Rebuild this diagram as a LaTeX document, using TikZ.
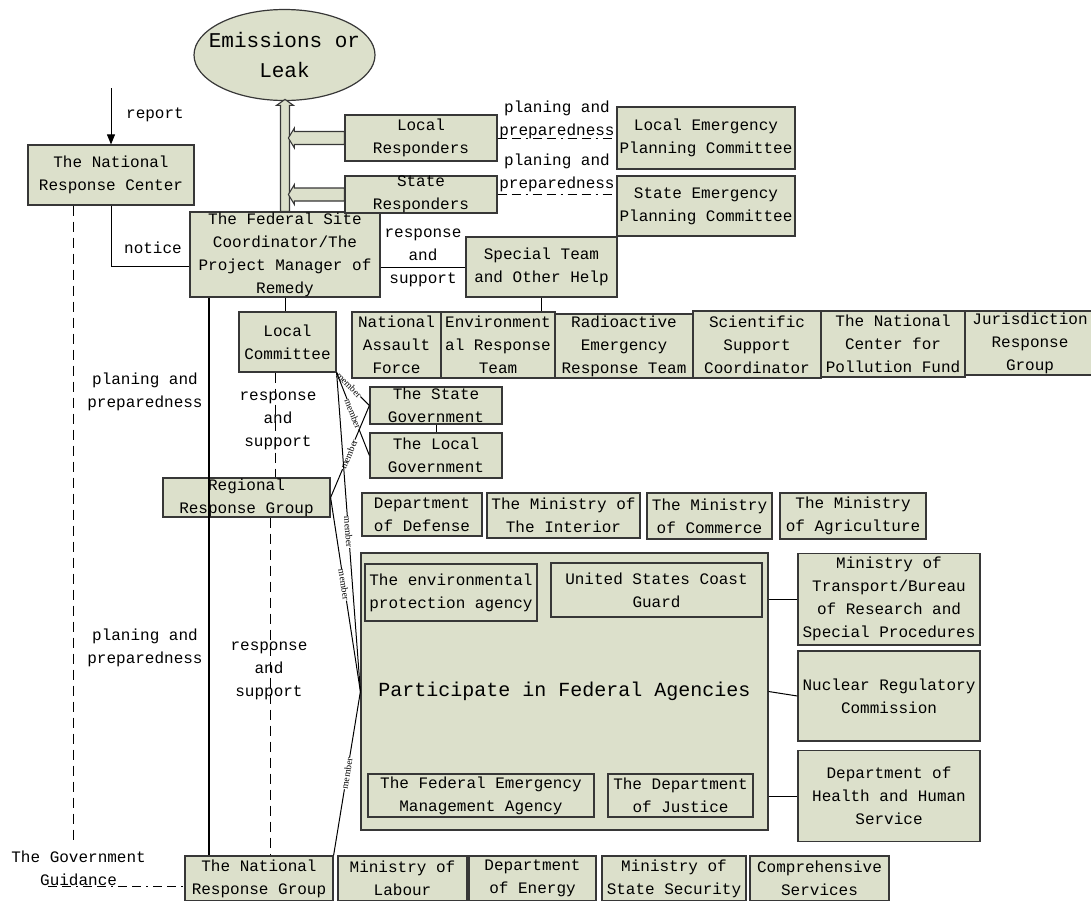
\documentclass[tikz,border=0pt]{standalone}
\usepackage{fontspec}
\setmainfont{Liberation Mono}
\newfontfamily\memberfont{Liberation Serif}
\usetikzlibrary{shapes.geometric,arrows.meta}
\definecolor{boxfill}{RGB}{220,224,203}
\definecolor{boxline}{RGB}{55,55,55}
\tikzset{
  box/.style={draw=boxline, fill=boxfill, line width=1.2pt, inner sep=0pt, align=center, font=\fontsize{16}{23}\selectfont},
  lbl/.style={inner sep=0pt, align=center, font=\fontsize{16}{23}\selectfont},
  link/.style={draw=black, line width=1pt},
  dashline/.style={link, dash pattern=on 10pt off 6pt},
  dotdash/.style={link, dash pattern=on 9pt off 5pt on 9pt off 5pt on 2pt off 5pt},
  fat/.style={draw=boxline, fill=boxfill, line width=1.1pt},
  member/.style={font=\memberfont\fontsize{9.5}{9.5}\selectfont, fill=white, inner sep=0.4pt, sloped}
}
\begin{document}
\begin{tikzpicture}[x=1pt, y=-1pt]
            \useasboundingbox (0,0) rectangle (1091,900);
            \clip (0,0) rectangle (1091,900);

            \node[ellipse, draw=boxline, fill=boxfill, line width=1.2pt, minimum width=181, minimum height=91, inner sep=0pt] (leak) at (284.5,55) {};
            \node[lbl, font=\fontsize{21}{30}\selectfont] (leaktext) at (leak) {Emissions or\\Leak};

            \node[box, minimum width=166, minimum height=60] (nrc) at (111,175) {The National\\Response Center};
            \node[box, minimum width=190, minimum height=85] (fsc) at (285,254.5) {The Federal Site\\Coordinator/The\\Project Manager of\\Remedy};
            \node[box, minimum width=152, minimum height=46] (lr) at (421,138) {Local\\Responders};
            \node[box, minimum width=152, minimum height=37] (sr) at (421,194.5) {State\\Responders};
            \node[box, minimum width=178, minimum height=62] (lepc) at (706,138) {Local Emergency\\Planning Committee};
            \node[box, minimum width=178, minimum height=60] (sepc) at (706,206) {State Emergency\\Planning Committee};
            \node[box, minimum width=151, minimum height=60] (st) at (541.5,267) {Special Team\\and Other Help};

            \node[box, minimum width=89, minimum height=66] (naf) at (396.5,345) {National\\Assault\\Force};
            \node[box, minimum width=114, minimum height=66] (ert) at (498,345) {Environment\\al Response\\Team};
            \node[box, minimum width=138, minimum height=64] (rert) at (624,346) {Radioactive\\Emergency\\Response Team};
            \node[box, minimum width=128, minimum height=67] (ssc) at (757,344.5) {Scientific\\Support\\Coordinator};
            \node[box, minimum width=144, minimum height=66] (ncpf) at (893,344) {The National\\Center for\\Pollution Fund};
            \node[box, minimum width=130, minimum height=64] (jrg) at (1030,343) {Jurisdiction\\Response\\Group};

            \node[box, minimum width=97, minimum height=60] (lc) at (287.5,342) {Local\\Committee};
            \node[box, minimum width=132, minimum height=37] (sg) at (436,405.5) {The State\\Government};
            \node[box, minimum width=132, minimum height=45] (lg) at (436,455.5) {The Local\\Government};
            \node[box, minimum width=167, minimum height=39] (rrg) at (246.5,497.5) {Regional\\Response Group};

            \node[box, minimum width=120, minimum height=43] (dod) at (422,514.5) {Department\\of Defense};
            \node[box, minimum width=153, minimum height=45] (moi) at (563.5,515.5) {The Ministry of\\The Interior};
            \node[box, minimum width=125, minimum height=46] (moc) at (709.5,516) {The Ministry\\of Commerce};
            \node[box, minimum width=146, minimum height=46] (moa) at (853,516) {The Ministry\\of Agriculture};

            \node[box, minimum width=407, minimum height=277, font=\fontsize{20}{24}\selectfont] (pfa) at (564.5,691.5) {Participate in Federal Agencies};
            \node[box, minimum width=172, minimum height=57] (epa) at (451,592.5) {The environmental\\protection agency};
            \node[box, minimum width=211, minimum height=54] (uscg) at (656.5,590) {United States Coast\\Guard};
            \node[box, minimum width=226, minimum height=43] (fema) at (481,795.5) {The Federal Emergency\\Management Agency};
            \node[box, minimum width=145, minimum height=43] (doj) at (680.5,795.5) {The Department\\of Justice};

            \node[box, minimum width=182, minimum height=91.5] (mot) at (889,599.3) {Ministry of\\Transport/Bureau\\of Research and\\Special Procedures};
            \node[box, minimum width=182, minimum height=90] (nuc) at (889,696) {Nuclear Regulatory\\Commission};
            \node[box, minimum width=182, minimum height=90.5] (hhs) at (889,796) {Department of\\Health and Human\\Service};

            \node[box, minimum width=148, minimum height=45] (nrg) at (259,878.5) {The National\\Response Group};
            \node[box, minimum width=129, minimum height=45] (mol) at (402.5,878.5) {Ministry of\\Labour};
            \node[box, minimum width=127, minimum height=45] (doe) at (532.5,878.5) {Department\\of Energy};
            \node[box, minimum width=144, minimum height=45] (moss) at (674,878.5) {Ministry of\\State Security};
            \node[box, minimum width=139, minimum height=45] (cs) at (819.5,878.5) {Comprehensive\\Services};

            \node[lbl] (lreport) at (155,115) {report};
            \node[lbl] (lnotice) at (153,248) {notice};
            \node[lbl] (lplan1) at (557,120) {planing and\\preparedness};
            \node[lbl] (lplan2) at (557,172.5) {planing and\\preparedness};
            \node[lbl] (lresp1) at (423,257.5) {response\\and\\support};
            \node[lbl] (lplan3) at (145,392) {planing and\\preparedness};
            \node[lbl] (lresp2) at (278,421) {response\\and\\support};
            \node[lbl] (lplan4) at (145,648) {planing and\\preparedness};
            \node[lbl] (lresp3) at (269,671) {response\\and\\support};
            \node[lbl] (lguide) at (78.6,868) {The Government\\Guidance};

            \coordinate (rtop) at (111,88);
            \coordinate (gend) at (73,840);
            \coordinate (gstart) at (48,886);

            \draw[fat] ([xshift=-4.5pt]fsc.north) -- ++(0,-106) -- ++(-4,0) -- ++(8.5,-6) -- ++(8.5,6) -- ++(-4,0) -- ++(0,106) -- cycle;
            \draw[fat] ([yshift=6.5pt]lr.west) -- ++(-50,0) -- ++(0,-3.5) -- ++(-6,10) -- ++(6,10) -- ++(0,-3.5) -- ++(50,0) -- cycle;
            \draw[fat] ([yshift=6.5pt]sr.west) -- ++(-50,0) -- ++(0,-3.5) -- ++(-6,10) -- ++(6,10) -- ++(0,-3.5) -- ++(50,0) -- cycle;

            \draw[link, -{Triangle[length=10pt,width=8pt]}] (rtop) -- (nrc.north);
            \draw[link] (nrc.south) |- ([yshift=-11.5pt]fsc.west);
            \draw[dashline] ([xshift=-38pt]nrc.south) -- (gend);
            \draw[dotdash] (gstart) -- (gstart -| nrg.west);
            \draw[link, line width=2.4pt] ([xshift=-76pt]fsc.south) -- ([xshift=-76pt]fsc.south |- nrg.north);
            \draw[link] (fsc.south) -- (fsc.south |- lc.north);
            \draw[dashline] ([xshift=-12.5pt]lc.south) -- ([xshift=-12.5pt]lc.south |- rrg.north);
            \draw[dashline] ([xshift=23.5pt]rrg.south) -- ([xshift=23.5pt]rrg.south |- nrg.north);

            \draw[link] (st.west -| fsc.east) -- (st.west);
            \draw[dotdash] (lr.east) -- (lepc.west);
            \draw[dotdash] (sr.east) -- (sr.east -| sepc.west);
            \draw[link] (st.south) -- (st.south |- ert.north);
            \draw[link] (sg.south) -- (lg.north);

            \draw[link] (lc.south east) -- node[member, pos=0.38] {member} (sg.west);
            \draw[link] (lc.south east) -- node[member, pos=0.5] {member} (lg.west);
            \draw[link] (rrg.east) -- node[member, pos=0.47] {member} (sg.west);
            \draw[link] (lc.south east) -- node[member] {member} (pfa.west);
            \draw[link] (pfa.west) -- node[member, pos=0.55] {member} (rrg.east);
            \draw[link] (pfa.west) -- node[member] {member} (nrg.north east);

            \draw[link] (mot.west -| pfa.east) -- (mot.west);
            \draw[link] (pfa.east) -- (nuc.west);
            \draw[link] (hhs.west -| pfa.east) -- (hhs.west);
        \end{tikzpicture}
\end{document}
